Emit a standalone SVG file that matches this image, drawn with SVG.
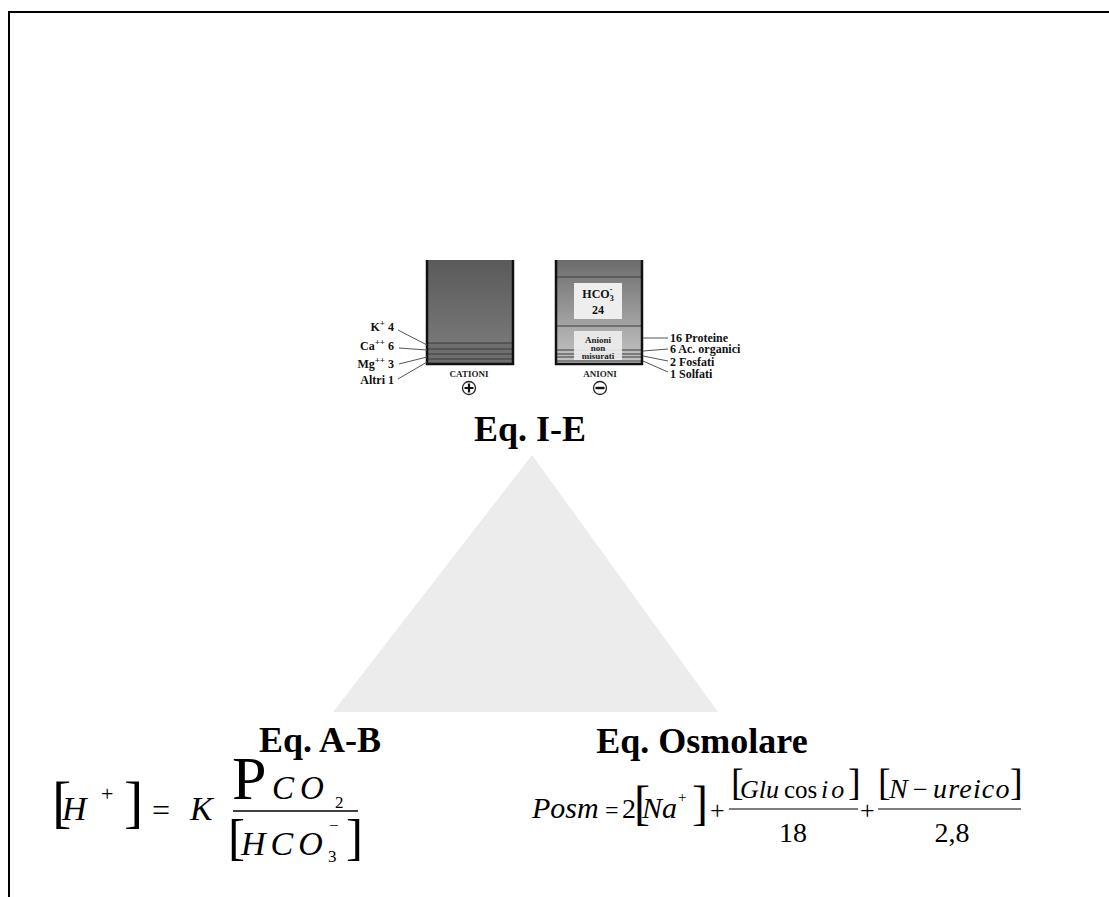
<svg xmlns="http://www.w3.org/2000/svg" width="1109" height="897" viewBox="0 0 1109 897">
  <defs>
    <linearGradient id="gCat" x1="0" y1="0" x2="0" y2="1">
      <stop offset="0" stop-color="#5a5a5a"/>
      <stop offset="1" stop-color="#7e7e7e"/>
    </linearGradient>
    <linearGradient id="gAnTop" x1="0" y1="0" x2="0" y2="1">
      <stop offset="0" stop-color="#6a6a6a"/>
      <stop offset="1" stop-color="#7c7c7c"/>
    </linearGradient>
    <linearGradient id="gAnMid" x1="0" y1="0" x2="0" y2="1">
      <stop offset="0" stop-color="#7c7c7c"/>
      <stop offset="1" stop-color="#a4a4a4"/>
    </linearGradient>
    <linearGradient id="gAnLow" x1="0" y1="0" x2="0" y2="1">
      <stop offset="0" stop-color="#a8a8a8"/>
      <stop offset="1" stop-color="#c4c4c4"/>
    </linearGradient>
    <style>
      .frame { fill: none; stroke: #000; stroke-width: 2; }
      .side { stroke: #111; stroke-width: 2.5; }
      .band { stroke: #3a3a3a; stroke-width: 1; }
      .lead { stroke: #555; stroke-width: 1; fill: none; }
      .lbl { font-family: "Liberation Serif", serif; font-weight: bold; font-size: 12px; fill: #111; }
      .small { font-family: "Liberation Serif", serif; font-weight: bold; font-size: 9px; fill: #222; }
      .title { font-family: "Liberation Serif", serif; font-weight: bold; font-size: 36px; fill: #000; }
      .m { font-family: "Liberation Serif", serif; fill: #000; }
      .it { font-style: italic; }
    </style>
  </defs>

  <rect width="1109" height="897" fill="#fff"/>
  <!-- page frame: top and left edges only -->
  <path class="frame" d="M9 897 V12 H1109"/>

  <!-- triangle linking the three equilibria -->
  <g id="connectors">
    <polygon points="532,455 333,712 718,712" fill="#ececec"/>
  </g>

  <!-- ionogram: cations column -->
  <g id="cationi">
    <rect x="427" y="260" width="86" height="104" fill="url(#gCat)"/>
    <rect x="427" y="343" width="86" height="21" fill="#6e6e6e"/>
    <line class="band" x1="427" y1="343" x2="513" y2="343"/>
    <line class="band" x1="427" y1="349" x2="513" y2="349"/>
    <line class="band" x1="427" y1="354" x2="513" y2="354"/>
    <line class="band" x1="427" y1="359" x2="513" y2="359"/>
    <line class="side" x1="427" y1="260" x2="427" y2="365"/>
    <line class="side" x1="513" y1="260" x2="513" y2="365"/>
    <line class="side" x1="426" y1="364" x2="514" y2="364"/>
    <line class="lead" x1="398" y1="330" x2="427" y2="345"/>
    <line class="lead" x1="399" y1="348" x2="427" y2="350"/>
    <line class="lead" x1="399" y1="364" x2="427" y2="357"/>
    <line class="lead" x1="398" y1="379" x2="427" y2="362"/>
    <text class="lbl" x="394" y="331" text-anchor="end" font-size="13">K<tspan dy="-5" font-size="9">+</tspan><tspan dy="5"> 4</tspan></text>
    <text class="lbl" x="394" y="350" text-anchor="end" font-size="13">Ca<tspan dy="-5" font-size="9">++</tspan><tspan dy="5"> 6</tspan></text>
    <text class="lbl" x="394" y="368" text-anchor="end" font-size="13">Mg<tspan dy="-5" font-size="9">++</tspan><tspan dy="5"> 3</tspan></text>
    <text class="lbl" x="394" y="384" text-anchor="end" font-size="13">Altri  1</text>
    <text class="small" x="469" y="377" text-anchor="middle" font-size="11.5">CATIONI</text>
    <circle cx="469" cy="388" r="6.5" fill="#fff" stroke="#222" stroke-width="1.3"/>
    <path d="M464.5 388 H473.5 M469 383.5 V392.5" stroke="#111" stroke-width="2.2"/>
  </g>

  <!-- ionogram: anions column -->
  <g id="anioni">
    <rect x="556" y="260" width="86" height="17" fill="url(#gAnTop)"/>
    <rect x="556" y="277" width="86" height="49" fill="url(#gAnMid)"/>
    <rect x="556" y="326" width="86" height="38" fill="url(#gAnLow)"/>
    <line class="band" x1="556" y1="277" x2="642" y2="277"/>
    <line class="band" x1="556" y1="326" x2="642" y2="326"/>
    <line class="band" x1="556" y1="350" x2="642" y2="350"/>
    <line class="band" x1="556" y1="354" x2="642" y2="354"/>
    <line class="band" x1="556" y1="357" x2="642" y2="357"/>
    <line class="band" x1="556" y1="361" x2="642" y2="361"/>
    <rect x="574" y="283" width="48" height="36" fill="#eeeeee"/>
    <rect x="574" y="331" width="48" height="29" fill="#eeeeee" opacity="0.9"/>
    <line class="side" x1="556" y1="260" x2="556" y2="365"/>
    <line class="side" x1="642" y1="260" x2="642" y2="365"/>
    <line class="side" x1="555" y1="364" x2="643" y2="364"/>
    <text class="lbl" x="598" y="298" text-anchor="middle" font-size="13">HCO<tspan dy="3" font-size="8">3</tspan><tspan dx="-4" dy="-9" font-size="8">-</tspan></text>
    <text class="lbl" x="598" y="314" text-anchor="middle" font-size="13">24</text>
    <text class="small" x="598" y="343" text-anchor="middle">Anioni</text>
    <text class="small" x="598" y="351" text-anchor="middle">non</text>
    <text class="small" x="598" y="359" text-anchor="middle">misurati</text>
    <line class="lead" x1="643" y1="338" x2="668" y2="338"/>
    <line class="lead" x1="643" y1="351" x2="668" y2="349"/>
    <line class="lead" x1="643" y1="356" x2="668" y2="361"/>
    <line class="lead" x1="643" y1="361" x2="668" y2="372"/>
    <text class="lbl" x="670" y="342">16 Proteine</text>
    <text class="lbl" x="670" y="353">6  Ac. organici</text>
    <text class="lbl" x="670" y="366">2 Fosfati</text>
    <text class="lbl" x="670" y="378">1 Solfati</text>
    <text class="small" x="600" y="377" text-anchor="middle" font-size="11.5">ANIONI</text>
    <circle cx="600" cy="388" r="6.5" fill="#fff" stroke="#222" stroke-width="1.3"/>
    <path d="M595.5 388 H604.5" stroke="#111" stroke-width="2.4"/>
  </g>

  <!-- vertex: ionic equilibrium -->
  <g id="eq-ie">
    <text class="title" x="530" y="441" text-anchor="middle" font-size="37">Eq. I-E</text>
  </g>

  <!-- vertex: acid-base equilibrium -->
  <g id="eq-ab">
    <text class="title" x="320" y="752" text-anchor="middle">Eq. A-B</text>
    <g class="m" font-family="Liberation Serif, serif">
      <text x="52" y="821" font-size="58">[</text>
      <text x="62" y="820" font-size="34" class="it">H</text>
      <text x="101" y="801" font-size="22">+</text>
      <text x="124" y="821" font-size="58">]</text>
      <text x="152" y="821" font-size="32">=</text>
      <text x="190" y="820" font-size="34" class="it">K</text>
      <text x="232" y="799" font-size="62">P</text>
      <text x="272" y="799" font-size="33" class="it" letter-spacing="6">CO</text>
      <text x="335" y="808" font-size="17">2</text>
      <line x1="233" y1="811" x2="358" y2="811" stroke="#000" stroke-width="1.5"/>
      <text x="228" y="854" font-size="51">[</text>
      <text x="241" y="855" font-size="34" class="it" letter-spacing="5">HCO</text>
      <text x="328" y="862" font-size="17">3</text>
      <text x="329" y="831" font-size="17">−</text>
      <text x="346" y="854" font-size="51">]</text>
    </g>
  </g>

  <!-- vertex: osmolar equilibrium -->
  <g id="eq-osm">
    <text class="title" x="702" y="753" text-anchor="middle" font-size="35">Eq. Osmolare</text>
    <g class="m" font-family="Liberation Serif, serif" font-size="30">
      <text x="532" y="818" class="it">Posm</text>
      <text x="605" y="818" font-size="24">=</text>
      <text x="622" y="818" font-size="28">2</text>
      <text x="634" y="819" font-size="48">[</text>
      <text x="642" y="818" class="it">Na</text>
      <text x="678" y="802" font-size="15">+</text>
      <text x="692" y="819" font-size="48">]</text>
      <text x="710" y="819" font-size="26">+</text>
      <text x="731" y="795" font-size="38">[</text>
      <text x="740" y="798" font-size="26" class="it">Glu</text>
      <text x="784" y="798" font-size="25">cos</text>
      <text x="821" y="798" font-size="26" class="it" letter-spacing="3">io</text>
      <text x="848" y="795" font-size="38">]</text>
      <line x1="729" y1="809" x2="858" y2="809" stroke="#000" stroke-width="1.2"/>
      <text x="793" y="842" text-anchor="middle" font-size="28">18</text>
      <text x="860" y="819" font-size="26">+</text>
      <text x="878" y="795" font-size="38">[</text>
      <text x="889" y="798" font-size="28" class="it">N</text>
      <text x="913" y="798" font-size="26">−</text>
      <text x="933" y="798" font-size="28" class="it" letter-spacing="1.2">ureico</text>
      <text x="1010" y="795" font-size="38">]</text>
      <line x1="878" y1="809" x2="1021" y2="809" stroke="#000" stroke-width="1.2"/>
      <text x="952" y="842" text-anchor="middle" font-size="28">2,8</text>
    </g>
  </g>
</svg>
